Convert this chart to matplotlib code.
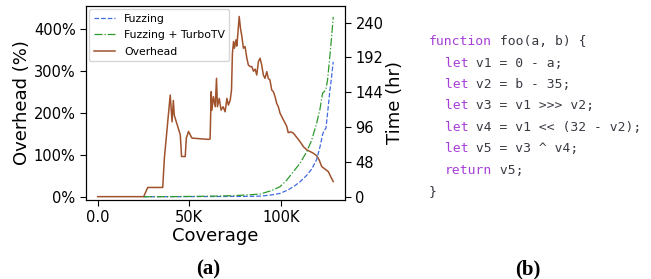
import matplotlib
matplotlib.use("Agg")
import matplotlib.pyplot as plt
from matplotlib.ticker import FuncFormatter, PercentFormatter

# overhead curve (coverage in K, overhead in %)
oh_cov = [0, 25.1, 27.3, 35.5, 36.4, 39.6, 40.6, 41.3, 41.8, 45.1, 45.8, 47.8,
          48.4, 49.6, 50.5, 51.5, 60.5, 61.4, 62.0, 62.4, 63.2, 64.2, 64.9, 65.4,
          66.4, 67.4, 68.5, 69.6, 70.6, 71.4, 72.4, 73.1, 73.6, 74.2, 74.7, 75.5,
          76.0, 76.6, 77.3, 78.0, 78.7, 79.6, 80.5, 81.5, 82.3, 83.3, 84.2, 85.1,
          86.0, 86.9, 87.8, 88.7, 89.6, 90.5, 91.4, 92.4, 93.2, 94.1, 95.1, 96.0,
          96.9, 97.8, 98.7, 99.6, 100.5, 101.4, 102.4, 103.3, 104.1, 105.5, 106.9,
          108.7, 110.5, 112.3, 114.2, 116.0, 117.8, 119.6, 121.0, 122.4, 124.2,
          126.0, 127.3, 128.7]
overhead = [0, 0, 22, 22, 92, 243, 179, 230, 195, 148, 96, 96,
            140, 156, 148, 140, 137, 138, 251, 207, 239, 215, 283, 215,
            235, 207, 215, 203, 235, 219, 231, 255, 343, 371, 355, 375,
            360, 391, 431, 403, 385, 355, 359, 331, 315, 311, 311, 300,
            305, 291, 323, 331, 315, 291, 283, 299, 283, 279, 255, 251,
            239, 223, 215, 200, 192, 184, 176, 168, 153, 155, 152,
            142, 132, 120, 112, 108, 104, 98, 88, 72, 66,
            60, 48, 36]

# campaign time (hours)
t_cov = [25.1, 40, 50, 60, 70, 80, 88.7, 95, 99.6, 103.3, 106.9, 110.5, 114.2,
         116.9, 119.6, 121.4, 122.9, 123.8, 124.7, 125.6, 126.9, 127.8, 128.7]
fuzz_hr = [0, 0.1, 0.2, 0.25, 0.35, 0.5, 0.8, 2.5, 4.6, 8.6, 13.7, 20.5, 29.5,
           38, 51, 68, 86, 92, 94, 115, 147, 165, 186]
turbo_hr = [0, 0.2, 0.4, 0.7, 1.2, 2.2, 3.7, 8.5, 13.8, 23, 34.5, 46, 62,
            78, 101, 120, 143, 145, 148, 161, 195, 220, 248]

# code listing: (indent, keyword, rest of line)
code_lines = [
    ("", "function", " foo(a, b) {"),
    ("  ", "let", " v1 = 0 - a;"),
    ("  ", "let", " v2 = b - 35;"),
    ("  ", "let", " v3 = v1 >>> v2;"),
    ("  ", "let", " v4 = v1 << (32 - v2);"),
    ("  ", "let", " v5 = v3 ^ v4;"),
    ("  ", "return", " v5;"),
    ("", "", "}"),
]

fig = plt.figure(figsize=(6.51, 2.79), dpi=100)
ax = fig.add_axes([86 / 651, 1 - 200 / 279, 259 / 651, 194 / 279])
ax2 = ax.twinx()

l3, = ax.plot(oh_cov, overhead, color="#a0522d", lw=1.1, label="Overhead")
l1, = ax2.plot(t_cov, fuzz_hr, color="#4169e1", lw=0.9, ls="--", label="Fuzzing")
l2, = ax2.plot(t_cov, turbo_hr, color="#2e9a2e", lw=0.9, ls="-.",
               label="Fuzzing + TurboTV")

ax.set_ylim(-8, 456)
ax2.set_ylim(-4.5, 263)
ax.set_yticks([0, 100, 200, 300, 400])
ax.yaxis.set_major_formatter(PercentFormatter(decimals=0))
ax2.set_yticks([0, 48, 96, 144, 192, 240])
ax.set_xticks([0, 50, 100])
ax.xaxis.set_major_formatter(FuncFormatter(lambda v, p: "0.0" if v == 0 else f"{v:.0f}K"))

for a in (ax, ax2):
    a.tick_params(labelsize=10.5, length=4)
ax.set_xlabel("Coverage", fontsize=13, labelpad=1)
ax.set_ylabel("Overhead (%)", fontsize=13, labelpad=2)
ax2.set_ylabel("Time (hr)", fontsize=13, labelpad=2)

ax2.legend(handles=[l1, l2, l3], loc="upper left", fontsize=7.8,
           borderaxespad=0.3, handlelength=2.0, labelspacing=0.6)

# code listing (b), monospace so every char is 0.602 em wide
fs = 9.4
cw = 0.602 * fs * 100 / 72 / 651
x0, y0, dy = 429 / 651, 1 - 41.7 / 279, 21.4 / 279
for i, (ind, kw, rest) in enumerate(code_lines):
    y = y0 - i * dy
    if kw:
        fig.text(x0 + len(ind) * cw, y, kw, family="DejaVu Sans Mono",
                 fontsize=fs, color="#a63ed8", va="center", ha="left")
    fig.text(x0 + len(ind + kw) * cw, y, rest.replace(" ", "\u00a0"),
             family="DejaVu Sans Mono", fontsize=fs, color="#383a42",
             va="center", ha="left")

fig.text(208 / 651, 1 - 269 / 279, "(a)", family="Liberation Serif",
         weight="bold", fontsize=15, ha="center", va="center")
fig.text(528 / 651, 1 - 269 / 279, "(b)", family="Liberation Serif",
         weight="bold", fontsize=15, ha="center", va="center")

fig.savefig("out.png", dpi=100)
